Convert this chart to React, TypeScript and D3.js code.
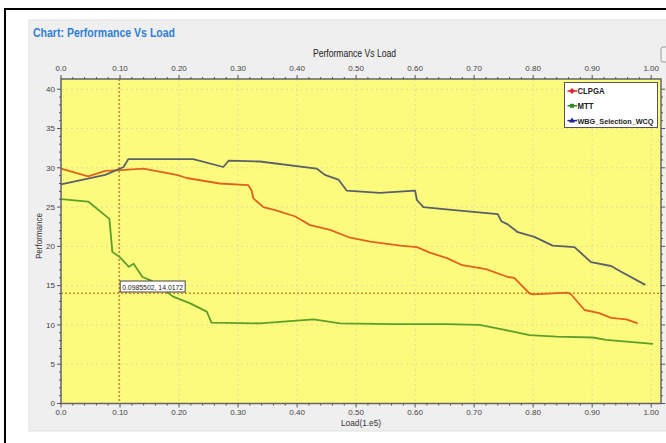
import React from "react";
import * as d3 from "d3";

const xTicks = [0, 0.1, 0.2, 0.3, 0.4, 0.5, 0.6, 0.7, 0.8, 0.9, 1.0];
const xTickLabels = ["0.0", "0.10", "0.20", "0.30", "0.40", "0.50", "0.60", "0.70", "0.80", "0.90", "1.00"];
const yTicks = [0, 5, 10, 15, 20, 25, 30, 35, 40];

const wbgX = [0, 0.075, 0.106, 0.114, 0.224, 0.275, 0.284, 0.337, 0.433, 0.447, 0.470, 0.484, 0.540, 0.600, 0.603, 0.614, 0.653, 0.740, 0.746, 0.757, 0.774, 0.802, 0.833, 0.870, 0.898, 0.932, 0.946, 0.990];
const wbgY = [27.9, 29.1, 30.1, 31.1, 31.1, 30.1, 30.9, 30.8, 29.9, 29.1, 28.5, 27.1, 26.8, 27.1, 25.9, 25.0, 24.7, 24.1, 23.2, 22.8, 21.8, 21.2, 20.1, 19.9, 18.0, 17.5, 16.9, 15.1];

const clpgaX = [0, 0.046, 0.075, 0.100, 0.140, 0.196, 0.213, 0.269, 0.317, 0.323, 0.326, 0.343, 0.363, 0.397, 0.422, 0.456, 0.490, 0.524, 0.575, 0.603, 0.625, 0.654, 0.680, 0.720, 0.757, 0.768, 0.794, 0.800, 0.859, 0.864, 0.887, 0.912, 0.932, 0.958, 0.977];
const clpgaY = [29.9, 28.9, 29.6, 29.7, 29.9, 29.1, 28.7, 28.0, 27.8, 27.1, 26.1, 25.0, 24.6, 23.8, 22.7, 22.1, 21.1, 20.6, 20.1, 19.9, 19.2, 18.5, 17.6, 17.1, 16.1, 16.0, 14.0, 13.9, 14.1, 13.9, 11.9, 11.5, 10.9, 10.7, 10.2];

const mttX = [0, 0.046, 0.082, 0.087, 0.100, 0.115, 0.123, 0.138, 0.154, 0.190, 0.219, 0.247, 0.255, 0.337, 0.428, 0.473, 0.560, 0.653, 0.709, 0.737, 0.766, 0.794, 0.839, 0.901, 0.924, 1.003];
const mttY = [26.0, 25.7, 23.5, 19.3, 18.6, 17.4, 17.8, 16.1, 15.6, 13.6, 12.75, 11.7, 10.3, 10.2, 10.7, 10.2, 10.1, 10.1, 10.0, 9.6, 9.15, 8.7, 8.5, 8.4, 8.1, 7.6];

const seriesNames = ["CLPGA", "MTT", "WBG_Selection_WCQ"];
const crossX = 0.0985502;
const crossY = 14.0172;

export default function App() {
  const left = 61, right = 661, top = 79, bottom = 403.5;
  const x = d3.scaleLinear().domain([0, 1.0166]).range([left, right]);
  const y = d3.scaleLinear().domain([0, 41.3]).range([bottom, top]);
  const line = d3.line<[number, number]>().x(d => x(d[0])).y(d => y(d[1]));
  const zip = (a: number[], b: number[]) => a.map((v, i) => [v, b[i]] as [number, number]);

  const series = [
    { name: seriesNames[0], pts: zip(clpgaX, clpgaY), color: "#e0621c", mark: "#e02828" },
    { name: seriesNames[1], pts: zip(mttX, mttY), color: "#5e9e2a", mark: "#2e8a2e" },
    { name: seriesNames[2], pts: zip(wbgX, wbgY), color: "#5a6068", mark: "#23238f" },
  ];

  const minorX = d3.range(0, 1.0001, 0.02);
  const minorY = d3.range(0, 41, 1);
  const font = "'Liberation Sans', Arial, sans-serif";
  const tickColor = "#555";
  const labelColor = "#444";

  return (
    <svg width={666} height={443} style={{ position: "absolute", left: 0, top: 0 }} fontFamily={font}>
      <rect x={0} y={0} width={666} height={443} fill="#fff" />
      <line x1={4} y1={9} x2={666} y2={9} stroke="#000" strokeWidth={2} />
      <line x1={5} y1={8} x2={5} y2={443} stroke="#000" strokeWidth={2} />
      <rect x={29} y={20} width={640} height={411} fill="#efefef" stroke="#e2e2e2" />
      <text x={33} y={36.5} fontSize={12.5} fontWeight="bold" fill="#2f7fd3" textLength={142} lengthAdjust="spacingAndGlyphs">Chart: Performance Vs Load</text>
      <text x={354.5} y={57} fontSize={10} fill="#222" textAnchor="middle" textLength={83} lengthAdjust="spacingAndGlyphs">Performance Vs Load</text>

      <rect x={left} y={top} width={right - left} height={bottom - top} fill="#fdfb7e" />
      {xTicks.map((t, i) => (
        <line key={"gx" + i} x1={x(t)} x2={x(t)} y1={top} y2={bottom} stroke="#e2de98" strokeWidth={1} strokeDasharray="2,3" />
      ))}
      {yTicks.map((t, i) => (
        <line key={"gy" + i} x1={left} x2={right} y1={y(t)} y2={y(t)} stroke="#e2de98" strokeWidth={1} strokeDasharray="2,3" />
      ))}

      <line x1={x(crossX)} x2={x(crossX)} y1={top} y2={bottom} stroke="#d0862c" strokeWidth={1.5} strokeDasharray="2,2" />
      <line x1={left} x2={right} y1={y(crossY)} y2={y(crossY)} stroke="#d0862c" strokeWidth={1.5} strokeDasharray="2,2" />

      {series.map(s => (
        <path key={s.name} d={line(s.pts) || ""} fill="none" stroke={s.color} strokeWidth={1.8} strokeLinejoin="round" />
      ))}

      <rect x={left} y={top} width={right - left} height={bottom - top} fill="none" stroke="#666" strokeWidth={1.5} />

      {minorX.map((t, i) => (
        <g key={"mx" + i}>
          <line x1={x(t)} x2={x(t)} y1={top} y2={top - (i % 5 === 0 ? 4 : 2)} stroke={tickColor} />
          <line x1={x(t)} x2={x(t)} y1={bottom} y2={bottom + (i % 5 === 0 ? 4 : 2)} stroke={tickColor} />
        </g>
      ))}
      {minorY.map((t, i) => (
        <g key={"my" + i}>
          <line x1={left} x2={left - (i % 5 === 0 ? 4 : 2)} y1={y(t)} y2={y(t)} stroke={tickColor} />
          <line x1={right} x2={right + (i % 5 === 0 ? 4 : 2)} y1={y(t)} y2={y(t)} stroke={tickColor} />
        </g>
      ))}
      {xTicks.map((t, i) => (
        <g key={"xl" + i}>
          <text x={x(t)} y={71} fontSize={8} fill={labelColor} textAnchor="middle">{xTickLabels[i]}</text>
          <text x={x(t)} y={415} fontSize={8} fill={labelColor} textAnchor="middle">{xTickLabels[i]}</text>
        </g>
      ))}
      {yTicks.map((t, i) => (
        <text key={"yl" + i} x={55} y={y(t) + 2.8} fontSize={8} fill={labelColor} textAnchor="end">{t}</text>
      ))}
      <text x={361} y={426} fontSize={9.5} fill="#333" textAnchor="middle" textLength={40} lengthAdjust="spacingAndGlyphs">Load(1.e5)</text>
      <text transform="translate(42,236) rotate(-90)" fontSize={9.5} fill="#333" textAnchor="middle" textLength={46} lengthAdjust="spacingAndGlyphs">Performance</text>

      <rect x={x(crossX) + 1} y={281} width={65} height={11} fill="#fff" stroke="#444" strokeWidth={1} />
      <text x={x(crossX) + 3} y={289.5} fontSize={8} fill="#222" textLength={61} lengthAdjust="spacingAndGlyphs">{`${crossX}, ${crossY}`}</text>

      <rect x={564.5} y={82.5} width={93} height={45} fill="#fff" stroke="#555" strokeWidth={1} />
      {series.map((s, i) => {
        const ly = 91 + i * 14.8;
        return (
          <g key={"lg" + i}>
            <line x1={567.5} x2={577} y1={ly} y2={ly} stroke={s.mark} strokeWidth={1.5} />
            {i === 2 ? (
              <path d={`M572,${ly - 3}L575,${ly + 2}L569,${ly + 2}Z`} fill={s.mark} />
            ) : i === 1 ? (
              <rect x={570} y={ly - 2} width={4} height={4} fill={s.mark} />
            ) : (
              <path d={`M572,${ly - 3}L575,${ly}L572,${ly + 3}L569,${ly}Z`} fill={s.mark} />
            )}
            <text x={577.5} y={ly + 3} fontSize={i === 2 ? 7.5 : 8.5} fontWeight="bold" fill="#222"
              textLength={i === 0 ? 27 : i === 1 ? 16 : 76} lengthAdjust="spacingAndGlyphs">{s.name}</text>
          </g>
        );
      })}
      <rect x={661} y={47} width={7} height={15} rx={2} fill="#f4f4f4" stroke="#999" />
    </svg>
  );
}
